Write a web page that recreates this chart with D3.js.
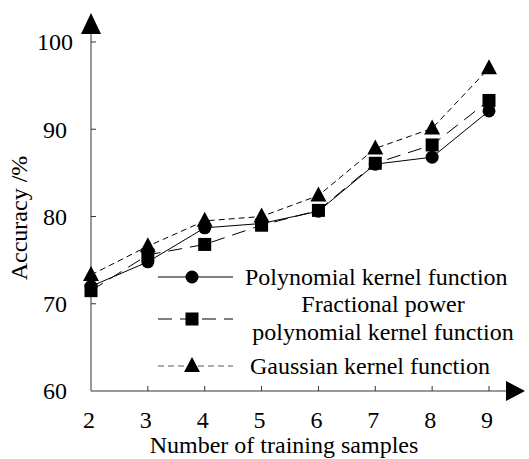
<!DOCTYPE html>
<html>
<head>
<meta charset="utf-8">
<script src="https://cdn.jsdelivr.net/npm/d3@7"></script>
<style>
  body { margin: 0; background: #fff; }
</style>
</head>
<body>
<div id="chart"></div>
<script>
// training sample counts
const samples = [2, 3, 4, 5, 6, 7, 8, 9];
const polynomial = [72.0, 74.8, 78.7, 79.2, 80.6, 86.0, 86.8, 92.1];
const fractional = [71.5, 75.6, 76.8, 79.0, 80.7, 86.1, 88.2, 93.3];
const gaussian = [73.3, 76.6, 79.5, 80.0, 82.4, 87.8, 90.1, 97.0];
const yTicks = [60, 70, 80, 90, 100];

const series = [
  {name: ['Polynomial kernel function'], values: polynomial, shape: 'circle', dash: null},
  {name: ['Fractional power', 'polynomial kernel function'], values: fractional, shape: 'square', dash: '14,8'},
  {name: ['Gaussian kernel function'], values: gaussian, shape: 'triangle', dash: '6,4'}
];

const width = 529, height = 459;
const margin = {left: 91, bottom: 68};
const axisColor = '#777';
const font = '"Liberation Serif", "Times New Roman", "DejaVu Serif", serif';
const fontSize = 24;

const svg = d3.select('#chart').append('svg')
    .attr('width', width)
    .attr('height', height)
    .attr('font-family', font);

const x = d3.scaleLinear().domain([2, 9]).range([margin.left, 489]);
const y = d3.scaleLinear().domain([60, 100]).range([height - margin.bottom, 42]);

const x0 = x(2), y0 = y(60);

// axes with arrows
svg.append('line')
    .attr('x1', x0).attr('y1', y0).attr('x2', 508).attr('y2', y0)
    .attr('stroke', axisColor).attr('stroke-width', 1.5);
svg.append('path')
    .attr('d', `M525,${y0} L506,${y0 - 10} L506,${y0 + 10} Z`)
    .attr('fill', '#000');
svg.append('line')
    .attr('x1', x0).attr('y1', y0).attr('x2', x0).attr('y2', 30)
    .attr('stroke', axisColor).attr('stroke-width', 1.5);
svg.append('path')
    .attr('d', `M${x0},13 L${x0 - 10},34 L${x0 + 10},34 Z`)
    .attr('fill', '#000');

// ticks
svg.selectAll('.xtick')
    .data(samples.slice(1))
  .join('line')
    .attr('class', 'xtick')
    .attr('x1', d => x(d)).attr('x2', d => x(d))
    .attr('y1', y0).attr('y2', y0 - 5)
    .attr('stroke', '#333');
svg.selectAll('.ytick')
    .data(yTicks.slice(1))
  .join('line')
    .attr('class', 'ytick')
    .attr('x1', x0).attr('x2', x0 + 5)
    .attr('y1', d => y(d)).attr('y2', d => y(d))
    .attr('stroke', '#333');

svg.selectAll('.xlabel')
    .data(samples)
  .join('text')
    .attr('class', 'xlabel')
    .attr('x', d => x(d) - 2)
    .attr('y', 428)
    .attr('text-anchor', 'middle')
    .attr('font-size', fontSize)
    .text(d => d);
svg.selectAll('.ylabel')
    .data(yTicks)
  .join('text')
    .attr('class', 'ylabel')
    .attr('x', 55)
    .attr('y', d => y(d))
    .attr('dy', '0.35em')
    .attr('text-anchor', 'middle')
    .attr('font-size', fontSize)
    .text(d => d);

svg.append('text')
    .attr('x', 284).attr('y', 453)
    .attr('text-anchor', 'middle')
    .attr('font-size', fontSize)
    .text('Number of training samples');
svg.append('text')
    .attr('transform', 'translate(27,218) rotate(-90)')
    .attr('text-anchor', 'middle')
    .attr('font-size', fontSize)
    .text('Accuracy /%');

// lines
const line = d3.line()
    .x((d, i) => x(samples[i]))
    .y(d => y(d));

svg.selectAll('.series')
    .data(series)
  .join('path')
    .attr('class', 'series')
    .attr('d', d => line(d.values))
    .attr('fill', 'none')
    .attr('stroke', '#000')
    .attr('stroke-width', 1)
    .attr('stroke-dasharray', d => d.dash);

function drawMarker(g, shape, cx, cy) {
  if (shape === 'circle') {
    g.append('circle').attr('cx', cx).attr('cy', cy).attr('r', 6.5).attr('fill', '#000');
  } else if (shape === 'square') {
    g.append('rect').attr('x', cx - 6.5).attr('y', cy - 6.5).attr('width', 13).attr('height', 13).attr('fill', '#000');
  } else {
    g.append('path').attr('d', `M${cx},${cy - 9} L${cx - 8},${cy + 6} L${cx + 8},${cy + 6} Z`).attr('fill', '#000');
  }
}

const markers = svg.append('g');
series.forEach(s => {
  s.values.forEach((v, i) => drawMarker(markers, s.shape, x(samples[i]), y(v)));
});

// legend
const legendRows = [277, 319, 366];
const legend = svg.append('g').attr('font-size', fontSize);
series.forEach((s, i) => {
  const ly = legendRows[i];
  legend.append('line')
      .attr('x1', 158).attr('x2', 233)
      .attr('y1', ly).attr('y2', ly)
      .attr('stroke', i === 2 ? '#555' : '#000')
      .attr('stroke-width', 1)
      .attr('stroke-dasharray', s.dash);
  drawMarker(legend, s.shape, 192, ly);
});
legend.append('text').attr('x', 245).attr('y', 285).text(series[0].name[0]);
legend.append('text').attr('x', 383).attr('y', 312)
    .attr('text-anchor', 'middle').text(series[1].name[0]);
legend.append('text').attr('x', 383).attr('y', 340)
    .attr('text-anchor', 'middle').text(series[1].name[1]);
legend.append('text').attr('x', 250).attr('y', 374).text(series[2].name[0]);
</script>
</body>
</html>
